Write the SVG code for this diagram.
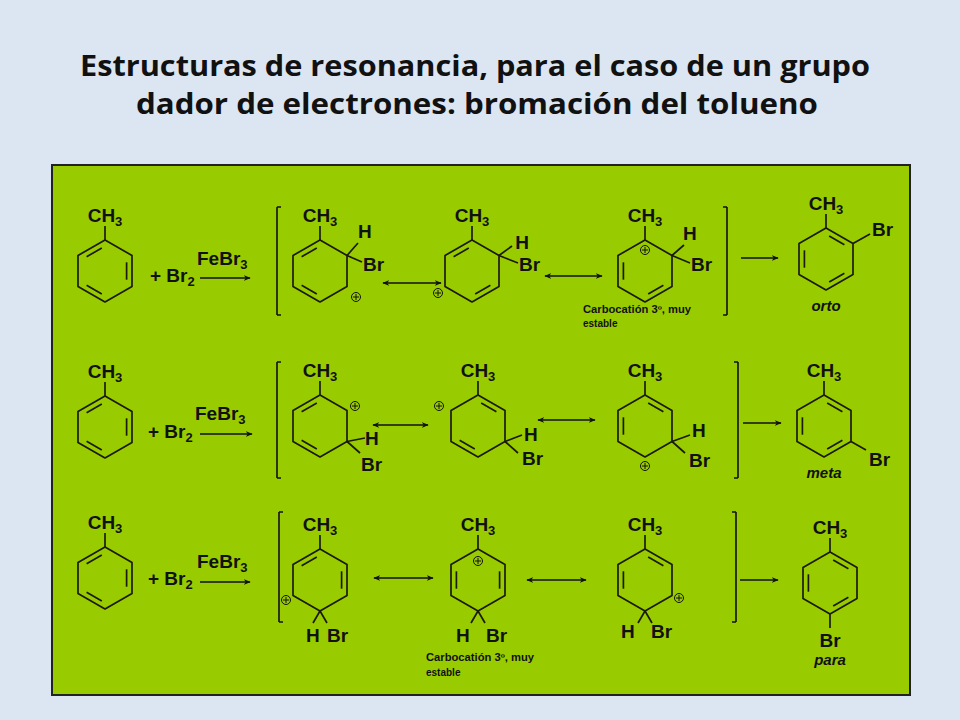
<svg xmlns="http://www.w3.org/2000/svg" xmlns:xlink="http://www.w3.org/1999/xlink" width="960" height="720" viewBox="0 0 960 720">
<style>
.ring{fill:none;stroke:#1a1a00;stroke-width:1.7;stroke-linejoin:round}
.b{stroke:#1a1a00;stroke-width:1.7;fill:none}
.t{font-family:"Liberation Sans",Arial,sans-serif;font-weight:bold;font-size:19px;fill:#111}
.s{font-size:13px}
.it{font-style:italic;font-size:15px}
.small{font-family:"Liberation Sans",Arial,sans-serif;font-weight:bold;font-size:10px;fill:#111}
.plus{fill:none;stroke:#111;stroke-width:1}
.title{font-family:"Open Sans","Liberation Sans",sans-serif;font-weight:bold;font-size:28px;fill:#111}
.ar{stroke:#111;stroke-width:1.6;fill:none}
</style>
<defs>
<marker id="ah" viewBox="0 0 10 10" refX="9" refY="5" markerWidth="7" markerHeight="7" orient="auto-start-reverse" markerUnits="userSpaceOnUse"><path d="M0,1 L10,5 L0,9 L3,5 z" fill="#111"/></marker>
<polygon id="hex" class="ring" points="0,-31 27,-15.5 27,15.5 0,31 -27,15.5 -27,-15.5"/>
<line id="d0" class="b" x1="3.2" y1="-23" x2="18.4" y2="-14.3"/>
<line id="d1" class="b" x1="21.6" y1="-8.7" x2="21.6" y2="8.7"/>
<line id="d2" class="b" x1="18.4" y1="14.3" x2="3.2" y2="23"/>
<line id="d3" class="b" x1="-3.2" y1="23" x2="-18.4" y2="14.3"/>
<line id="d4" class="b" x1="-21.6" y1="8.7" x2="-21.6" y2="-8.7"/>
<line id="d5" class="b" x1="-18.4" y1="-14.3" x2="-3.2" y2="-23"/>
<g id="pl"><circle class="plus" r="4.5"/><path class="plus" d="M-3,0H3M0,-3V3"/></g>
<g id="me"><line class="b" x1="0" y1="-31" x2="0" y2="-45"/><text class="t" x="0" y="-49" text-anchor="middle">CH<tspan class="s" dy="4">3</tspan></text></g>
</defs>
<rect width="960" height="720" fill="#dce6f2"/>
<text class="title" x="475" y="76" text-anchor="middle" textLength="790" lengthAdjust="spacingAndGlyphs">Estructuras de resonancia, para el caso de un grupo</text>
<text class="title" x="477" y="114" text-anchor="middle" textLength="682" lengthAdjust="spacingAndGlyphs">dador de electrones: bromación del tolueno</text>
<rect x="52" y="165" width="858" height="530" fill="#99cc00" stroke="#222" stroke-width="2"/>

<!-- Row 1 -->
<g id="tol1" transform="translate(105,271)"><use href="#hex"/><use href="#d5"/><use href="#d1"/><use href="#d3"/><use href="#me"/></g>
<g id="reag1"><text class="t" x="150" y="282">+ Br<tspan class="s" dy="4">2</tspan></text><text class="t" x="197" y="265">FeBr<tspan class="s" dy="4">3</tspan></text></g>
<g id="r1i1" transform="translate(320,271)"><use href="#hex"/><use href="#d5"/><use href="#d3"/><use href="#me"/>
<line class="b" x1="27" y1="-15.5" x2="38" y2="-28"/><text class="t" x="38" y="-33">H</text>
<line class="b" x1="27" y1="-15.5" x2="42" y2="-9"/><text class="t" x="43" y="0">Br</text>
<use href="#pl" x="36" y="26"/></g>
<g id="r1i2" transform="translate(472,271)"><use href="#hex"/><use href="#d5"/><use href="#d2"/><use href="#me"/>
<line class="b" x1="27" y1="-15.5" x2="40" y2="-25"/><text class="t" x="50" y="-22" text-anchor="middle">H</text>
<line class="b" x1="27" y1="-15.5" x2="46" y2="-8"/><text class="t" x="47" y="0">Br</text>
<use href="#pl" x="-34" y="22"/></g>
<g id="r1i3" transform="translate(645,271)"><use href="#hex"/><use href="#d4"/><use href="#d2"/><use href="#me"/>
<line class="b" x1="27" y1="-15.5" x2="39" y2="-26"/><text class="t" x="38" y="-31">H</text>
<line class="b" x1="27" y1="-15.5" x2="45" y2="-8"/><text class="t" x="46" y="0">Br</text>
<use href="#pl" x="0" y="-21"/>
<text class="small" x="-62" y="42" textLength="108" lengthAdjust="spacingAndGlyphs">Carbocatión 3º, muy</text><text class="small" x="-62" y="56">estable</text></g>
<g id="p1" transform="translate(826,259)"><use href="#hex"/><use href="#d0"/><use href="#d4"/><use href="#d2"/><use href="#me"/>
<line class="b" x1="27" y1="-15.5" x2="44" y2="-25"/><text class="t" x="46" y="-23">Br</text>
<text class="t it" x="0" y="52" text-anchor="middle">orto</text></g>

<!-- Row 2 -->
<g id="tol2" transform="translate(105,427)"><use href="#hex"/><use href="#d5"/><use href="#d1"/><use href="#d3"/><use href="#me"/></g>
<g id="reag2"><text class="t" x="148" y="438">+ Br<tspan class="s" dy="4">2</tspan></text><text class="t" x="195" y="420">FeBr<tspan class="s" dy="4">3</tspan></text></g>
<g id="r2i1" transform="translate(320,426)"><use href="#hex"/><use href="#d5"/><use href="#d3"/><use href="#me"/>
<line class="b" x1="27" y1="15.5" x2="45" y2="12"/><text class="t" x="45" y="19">H</text>
<line class="b" x1="27" y1="15.5" x2="40" y2="27"/><text class="t" x="41" y="45">Br</text>
<use href="#pl" x="35" y="-20"/></g>
<g id="r2i2" transform="translate(478,426)"><use href="#hex"/><use href="#d0"/><use href="#d3"/><use href="#me"/>
<line class="b" x1="27" y1="15.5" x2="44" y2="9"/><text class="t" x="46" y="15">H</text>
<line class="b" x1="27" y1="15.5" x2="40" y2="27"/><text class="t" x="44" y="39">Br</text>
<use href="#pl" x="-39" y="-20"/></g>
<g id="r2i3" transform="translate(645,426)"><use href="#hex"/><use href="#d0"/><use href="#d4"/><use href="#me"/>
<line class="b" x1="27" y1="15.5" x2="45" y2="9"/><text class="t" x="47" y="11">H</text>
<line class="b" x1="27" y1="15.5" x2="40" y2="27"/><text class="t" x="44" y="41">Br</text>
<use href="#pl" x="0" y="40"/></g>
<g id="p2" transform="translate(824,426)"><use href="#hex"/><use href="#d0"/><use href="#d4"/><use href="#d2"/><use href="#me"/>
<line class="b" x1="27" y1="15.5" x2="42" y2="24"/><text class="t" x="45" y="40">Br</text>
<text class="t it" x="0" y="52" text-anchor="middle">meta</text></g>

<!-- Row 3 -->
<g id="tol3" transform="translate(105,578)"><use href="#hex"/><use href="#d5"/><use href="#d1"/><use href="#d3"/><use href="#me"/></g>
<g id="reag3"><text class="t" x="148" y="585">+ Br<tspan class="s" dy="4">2</tspan></text><text class="t" x="197" y="568">FeBr<tspan class="s" dy="4">3</tspan></text></g>
<g id="r3i1" transform="translate(320,580)"><use href="#hex"/><use href="#d5"/><use href="#d1"/><use href="#me"/>
<line class="b" x1="0" y1="31" x2="-7" y2="43"/><line class="b" x1="0" y1="31" x2="7" y2="43"/>
<text class="t" x="-14" y="62">H</text><text class="t" x="7" y="62">Br</text>
<use href="#pl" x="-34" y="20"/></g>
<g id="r3i2" transform="translate(478,580)"><use href="#hex"/><use href="#d4"/><use href="#d1"/><use href="#me"/>
<line class="b" x1="0" y1="31" x2="-7" y2="43"/><line class="b" x1="0" y1="31" x2="7" y2="43"/>
<text class="t" x="-22" y="62">H</text><text class="t" x="8" y="62">Br</text>
<use href="#pl" x="0" y="-19"/>
<text class="small" x="-52" y="81" textLength="108" lengthAdjust="spacingAndGlyphs">Carbocatión 3º, muy</text><text class="small" x="-52" y="96">estable</text></g>
<g id="r3i3" transform="translate(645,580)"><use href="#hex"/><use href="#d0"/><use href="#d4"/><use href="#me"/>
<line class="b" x1="0" y1="31" x2="-7" y2="43"/><line class="b" x1="0" y1="31" x2="7" y2="43"/>
<text class="t" x="-24" y="58">H</text><text class="t" x="6" y="58">Br</text>
<use href="#pl" x="34" y="18"/></g>
<g id="p3" transform="translate(830,583)"><use href="#hex"/><use href="#d0"/><use href="#d4"/><use href="#d2"/><use href="#me"/>
<line class="b" x1="0" y1="31" x2="0" y2="45"/><text class="t" x="0" y="64" text-anchor="middle">Br</text>
<text class="t it" x="0" y="82" text-anchor="middle">para</text></g>

<!-- connectors -->
<g id="connectors">
<path class="ar" d="M277,207H281M277,207V315M277,315H281"/>
<path class="ar" d="M727,207H723M727,207V315M727,315H723"/>
<path class="ar" d="M277,362H281M277,362V478M277,478H281"/>
<path class="ar" d="M738,362H734M738,362V478M738,478H734"/>
<path class="ar" d="M279,512H283M279,512V622M279,622H283"/>
<path class="ar" d="M736,512H732M736,512V622M736,622H732"/>
<line class="ar" x1="200" y1="278" x2="250" y2="278" marker-end="url(#ah)"/>
<line class="ar" x1="200" y1="434" x2="252" y2="434" marker-end="url(#ah)"/>
<line class="ar" x1="200" y1="582" x2="250" y2="582" marker-end="url(#ah)"/>
<line class="ar" x1="383" y1="283" x2="441" y2="283" marker-start="url(#ah)" marker-end="url(#ah)"/>
<line class="ar" x1="545" y1="276" x2="602" y2="276" marker-start="url(#ah)" marker-end="url(#ah)"/>
<line class="ar" x1="373" y1="425" x2="428" y2="425" marker-start="url(#ah)" marker-end="url(#ah)"/>
<line class="ar" x1="538" y1="420" x2="595" y2="420" marker-start="url(#ah)" marker-end="url(#ah)"/>
<line class="ar" x1="374" y1="578" x2="433" y2="578" marker-start="url(#ah)" marker-end="url(#ah)"/>
<line class="ar" x1="527" y1="580" x2="586" y2="580" marker-start="url(#ah)" marker-end="url(#ah)"/>
<line class="ar" x1="741" y1="258" x2="778" y2="258" marker-end="url(#ah)"/>
<line class="ar" x1="743" y1="423" x2="781" y2="423" marker-end="url(#ah)"/>
<line class="ar" x1="740" y1="580" x2="778" y2="580" marker-end="url(#ah)"/>
</g>
</svg>
